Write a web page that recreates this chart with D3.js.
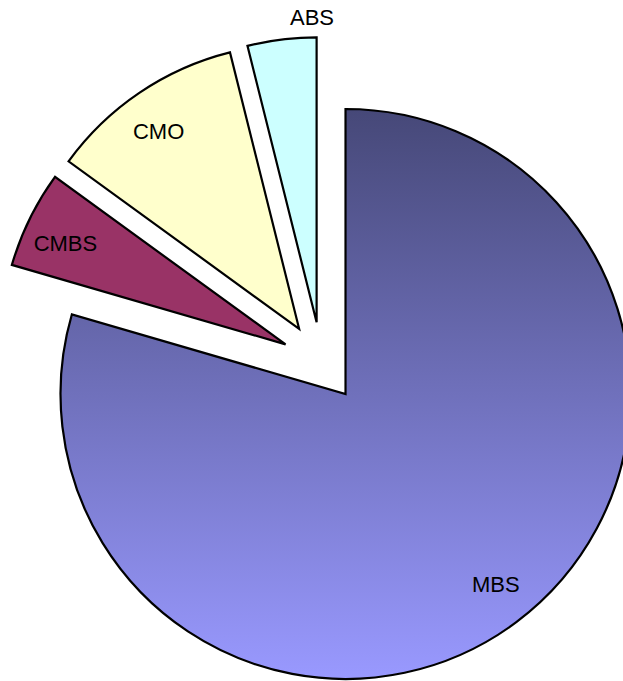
<!DOCTYPE html>
<html>
<head>
<meta charset="utf-8">
<script src="https://cdn.jsdelivr.net/npm/d3@7"></script>
<style>
  body { margin: 0; background: #fff; }
  svg { display: block; }
  text { font-family: "Liberation Sans", Arial, sans-serif; font-size: 22px; fill: #000; }
</style>
</head>
<body>
<script>
// chart data
const categories = ['MBS', 'CMBS', 'CMO', 'ABS'];
const values = [79.5, 5.5, 11.1, 3.9];
const topColors = ['#464878', '#993366', '#ffffcc', '#ccffff'];
const bottomColors = ['#9999ff', '#993366', '#ffffcc', '#ccffff'];
const outsideLabels = ['ABS'];

const width = 623;
const height = 681;
const cx = 321.5;
const cy = 362;
const r = 285;
const explode = 40;

const data = categories.map((c, i) => ({ name: c, value: values[i], i }));

const svg = d3.select('body').append('svg')
  .attr('width', width)
  .attr('height', height);

const defs = svg.append('defs');
data.forEach(d => {
  const g = defs.append('linearGradient')
    .attr('id', `grad${d.i}`)
    .attr('x1', 0).attr('y1', 0).attr('x2', 0).attr('y2', 1);
  g.append('stop').attr('offset', '0%').attr('stop-color', topColors[d.i]);
  g.append('stop').attr('offset', '100%').attr('stop-color', bottomColors[d.i]);
});

const pie = d3.pie().sort(null).value(d => d.value);
const arc = d3.arc().innerRadius(0).outerRadius(r);
const arcs = pie(data);

const canvas = svg.append('g')
  .attr('transform', `translate(${cx},${cy})`);

// offset along a slice's mid angle
const shift = (d, dist, turn = 0) => {
  const a = (d.startAngle + d.endAngle) / 2 + turn;
  return [Math.sin(a) * dist, -Math.cos(a) * dist];
};

const slices = canvas.selectAll('g.slice')
  .data(arcs)
  .enter()
  .append('g')
  .attr('class', 'slice')
  .attr('transform', d => `translate(${shift(d, explode)})`);

slices.append('path')
  .attr('d', arc)
  .attr('fill', d => `url(#grad${d.data.i})`)
  .attr('stroke', '#000')
  .attr('stroke-width', 2.2)
  .attr('stroke-linejoin', 'miter');

// labels: inside at 0.85r, or outside just beyond the arc
slices.append('text')
  .attr('text-anchor', 'middle')
  .attr('dy', '0.35em')
  .attr('transform', d => {
    if (outsideLabels.includes(d.data.name)) {
      const a = d.endAngle - 0.015;
      const dist = r + 20;
      return `translate(${Math.sin(a) * dist},${-Math.cos(a) * dist})`;
    }
    return `translate(${shift(d, r * 0.85, -0.025)})`;
  })
  .text(d => d.data.name);
</script>
</body>
</html>
